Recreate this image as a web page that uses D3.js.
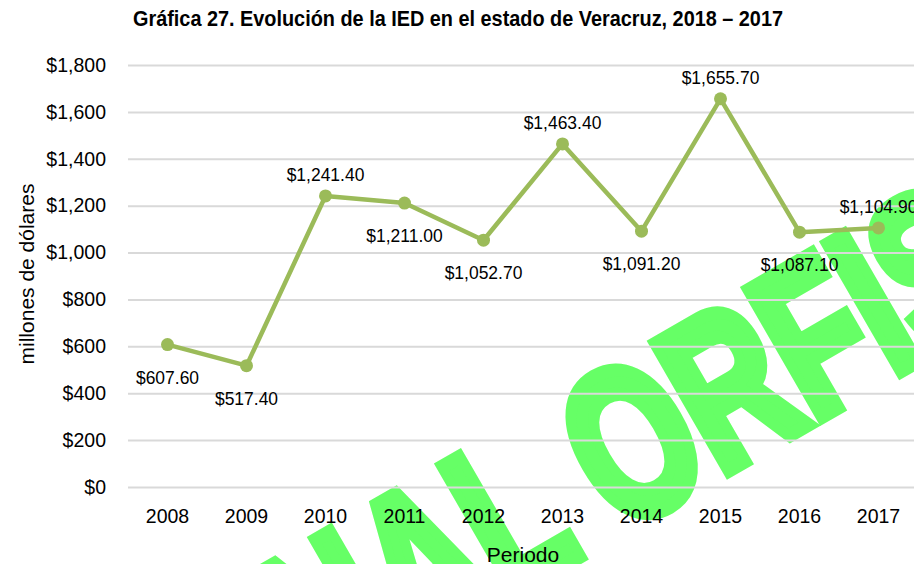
<!DOCTYPE html>
<html>
<head>
<meta charset="utf-8">
<script src="https://cdn.jsdelivr.net/npm/d3@7"></script>
<style>
  body { margin: 0; background: #fff; }
  text { font-family: "Liberation Sans", Arial, sans-serif; fill: #000; }
</style>
</head>
<body>
<svg id="chart"></svg>
<script>
// data
const years = ["2008", "2009", "2010", "2011", "2012", "2013", "2014", "2015", "2016", "2017"];
const ied = [607.6, 517.4, 1241.4, 1211.0, 1052.7, 1463.4, 1091.2, 1655.7, 1087.1, 1104.9];
const labelSide = ["below", "below", "above", "below", "below", "above", "below", "above", "below", "above"];
const yTicks = [0, 200, 400, 600, 800, 1000, 1200, 1400, 1600, 1800];

const W = 914, H = 564;
const margin = { top: 65, right: -4, bottom: 77, left: 128 };

const svg = d3.select("#chart").attr("width", W).attr("height", H);

// watermark behind everything
svg.append("text")
  .attr("transform", "translate(205,773) rotate(-30) scale(0.7,1)")
  .style("font-size", "213px")
  .style("font-weight", "bold")
  .style("fill", "#66ff66")
  .style("stroke", "#66ff66")
  .style("stroke-width", 14)
  .style("stroke-linejoin", "miter")
  .text("FINAL ORFIS");

const x = d3.scaleBand().domain(years).range([margin.left, W - margin.right]).padding(0);
const y = d3.scaleLinear().domain([0, 1800]).range([H - margin.bottom, margin.top]);
const cx = d => x(d) + x.bandwidth() / 2;

const fmt = d3.format("$,.2f");
const fmtTick = d3.format("$,");

// gridlines + y labels
const gY = svg.append("g")
  .attr("transform", "translate(" + margin.left + ",0)")
  .call(d3.axisLeft(y).tickValues(yTicks).tickFormat(fmtTick)
    .tickSize(-(W - margin.right - margin.left)).tickPadding(22));
gY.select(".domain").remove();
gY.selectAll(".tick line").attr("stroke", "#d9d9d9").attr("stroke-width", 2);
gY.selectAll(".tick text").style("font-size", "19.5px").attr("fill", "#000");

// x labels
const gX = svg.append("g")
  .attr("transform", "translate(0," + (H - margin.bottom) + ")")
  .call(d3.axisBottom(x).tickSize(0).tickPadding(22));
gX.select(".domain").remove();
gX.selectAll(".tick text").style("font-size", "19.5px").attr("fill", "#000");

// line
const line = d3.line().x((d, i) => cx(years[i])).y(d => y(d));
svg.append("path")
  .datum(ied)
  .attr("d", line)
  .attr("fill", "none")
  .attr("stroke", "#9bbb59")
  .attr("stroke-width", 4.5)
  .attr("stroke-linejoin", "round");

svg.selectAll(".dot")
  .data(ied)
  .enter()
  .append("circle")
  .attr("class", "dot")
  .attr("cx", (d, i) => cx(years[i]))
  .attr("cy", d => y(d))
  .attr("r", 6.5)
  .attr("fill", "#9bbb59");

// data labels (slightly condensed, like the original)
svg.selectAll(".lbl")
  .data(ied)
  .enter()
  .append("text")
  .attr("class", "lbl")
  .attr("transform", (d, i) => "translate(" + cx(years[i]) + "," +
    (y(d) + (labelSide[i] === "above" ? -15 : 39)) + ") scale(0.92,1)")
  .attr("text-anchor", "middle")
  .style("font-size", "19px")
  .text(d => fmt(d));

// title
svg.append("text")
  .attr("x", 458)
  .attr("y", 26)
  .attr("text-anchor", "middle")
  .attr("textLength", 650)
  .attr("lengthAdjust", "spacingAndGlyphs")
  .style("font-size", "21.5px")
  .style("font-weight", "bold")
  .text("Gráfica 27. Evolución de la IED en el estado de Veracruz, 2018 – 2017");

// axis titles
svg.append("text")
  .attr("x", 523)
  .attr("y", 562)
  .attr("text-anchor", "middle")
  .style("font-size", "21px")
  .text("Periodo");

svg.append("text")
  .attr("transform", "translate(34,274) rotate(-90)")
  .attr("text-anchor", "middle")
  .style("font-size", "21px")
  .text("millones de dólares");
</script>
</body>
</html>
